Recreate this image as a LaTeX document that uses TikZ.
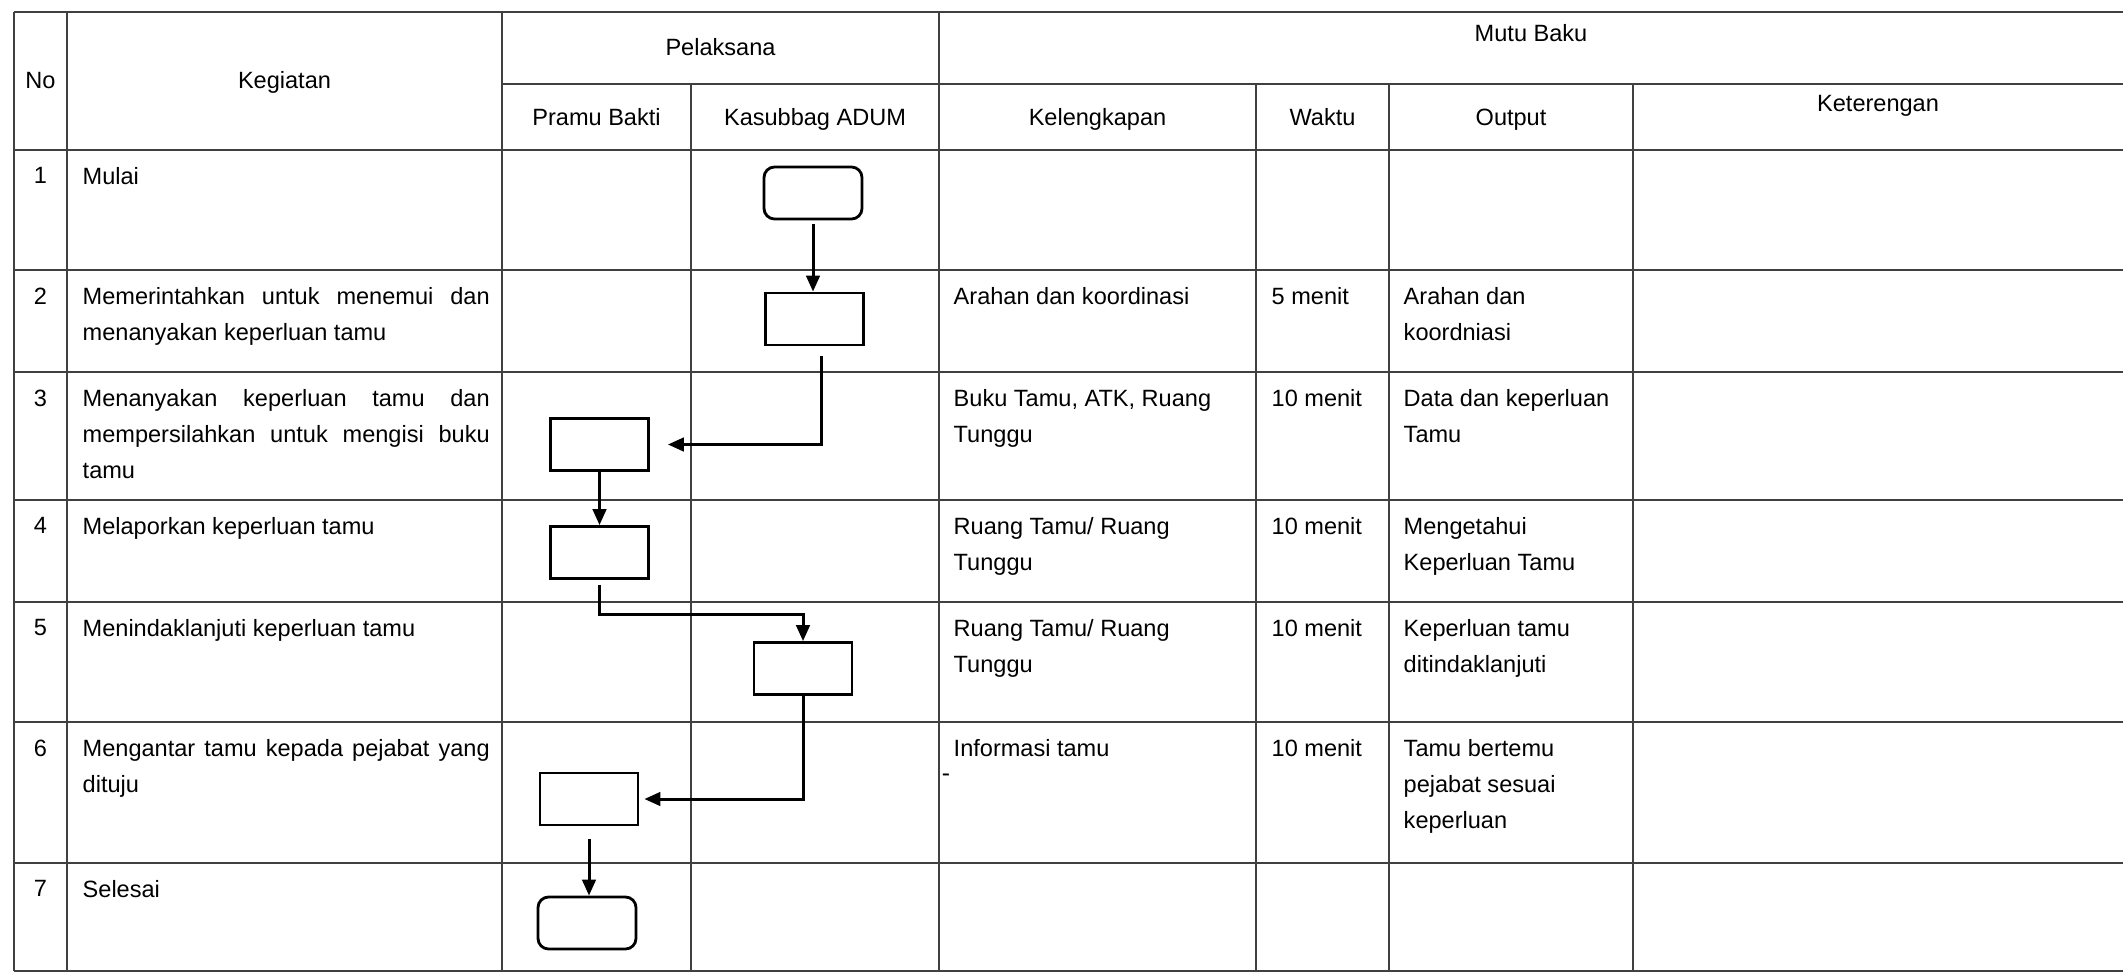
\documentclass[tikz,border=0pt]{standalone}
\usepackage{fontspec}
\setmainfont{Liberation Sans}
\usetikzlibrary{arrows.meta,positioning}
\tolerance=10000
\hyphenpenalty=10000

\begin{document}
\begin{tikzpicture}[
  font=\fontsize{6.7pt}{10.2pt}\selectfont,
  grid/.style={draw=black!75, line width=0.6pt},
  cell/.style={anchor=north west, inner sep=0pt, align=left},
  keg/.style={anchor=north west, inner sep=0pt, text width=4.07cm, align=justify},
  num/.style={anchor=north, inner sep=0pt},
  head/.style={anchor=base, inner sep=0pt},
  act/.style={draw=black, line width=0.8pt, minimum width=0.98cm, minimum height=0.52cm, inner sep=0pt},
  term/.style={act, rounded corners=3pt},
  flow/.style={draw=black, line width=0.85pt, -{Triangle[length=1.6mm,width=1.35mm]}}
]
\useasboundingbox (0,0) rectangle (21.23,-9.73);
\draw[grid] (0.14,-0.12) -- (21.23,-0.12);
\draw[grid] (5.02,-0.84) -- (21.23,-0.84);
\foreach \y in {1.50,2.70,3.72,5.00,6.02,7.22,8.63,9.71}
  \draw[grid] (0.14,-\y) -- (21.23,-\y);
\foreach \x in {0.14,0.67,5.02,9.39}
  \draw[grid] (\x,-0.12) -- (\x,-9.71);
\foreach \x in {6.91,12.56,13.89,16.33}
  \draw[grid] (\x,-0.84) -- (\x,-9.71);

\node[head] (hno) at (0.405,-0.885) {No};
\node[head] (hkeg) at (2.845,-0.885) {Kegiatan};
\node[head] (hpel) at (7.205,-0.555) {Pelaksana};
\node[head] (hpb) at (5.965,-1.255) {Pramu Bakti};
\node[head] (hka) at (8.15,-1.255) {Kasubbag ADUM};
\node[head] (hmb) at (15.31,-0.415) {Mutu Baku};
\node[head] (hkel) at (10.975,-1.255) {Kelengkapan};
\node[head] (hwak) at (13.225,-1.255) {Waktu};
\node[head] (hout) at (15.11,-1.255) {Output};
\node[head] (hket) at (18.78,-1.115) {Keterengan};

\node[num] (n1) at (0.405,-1.67) {1};
\node[keg] (k1) at (0.82,-1.67) {Mulai};
\node[num] (n2) at (0.405,-2.87) {2};
\node[keg] (k2) at (0.82,-2.87) {Memerintahkan untuk menemui dan menanyakan keperluan tamu};
\node[cell] (l2) at (9.53,-2.87) {Arahan dan koordinasi};
\node[cell] (w2) at (12.71,-2.87) {5 menit};
\node[cell] (o2) at (14.03,-2.87) {Arahan dan\\koordniasi};
\node[num] (n3) at (0.405,-3.89) {3};
\node[keg] (k3) at (0.82,-3.89) {Menanyakan keperluan tamu dan mempersilahkan untuk mengisi buku tamu};
\node[cell] (l3) at (9.53,-3.89) {Buku Tamu, ATK, Ruang\\Tunggu};
\node[cell] (w3) at (12.71,-3.89) {10 menit};
\node[cell] (o3) at (14.03,-3.89) {Data dan keperluan\\Tamu};
\node[num] (n4) at (0.405,-5.17) {4};
\node[keg] (k4) at (0.82,-5.17) {Melaporkan keperluan tamu};
\node[cell] (l4) at (9.53,-5.17) {Ruang Tamu/ Ruang\\Tunggu};
\node[cell] (w4) at (12.71,-5.17) {10 menit};
\node[cell] (o4) at (14.03,-5.17) {Mengetahui\\Keperluan Tamu};
\node[num] (n5) at (0.405,-6.19) {5};
\node[keg] (k5) at (0.82,-6.19) {Menindaklanjuti keperluan tamu};
\node[cell] (l5) at (9.53,-6.19) {Ruang Tamu/ Ruang\\Tunggu};
\node[cell] (w5) at (12.71,-6.19) {10 menit};
\node[cell] (o5) at (14.03,-6.19) {Keperluan tamu\\ditindaklanjuti};
\node[num] (n6) at (0.405,-7.39) {6};
\node[keg] (k6) at (0.82,-7.39) {Mengantar tamu kepada pejabat yang dituju};
\node[cell] (l6) at (9.53,-7.39) {Informasi tamu};
\node[inner sep=0pt] (dash) at (9.46,-7.78) {\scriptsize -};
\node[cell] (w6) at (12.71,-7.39) {10 menit};
\node[cell] (o6) at (14.03,-7.39) {Tamu bertemu\\pejabat sesuai\\keperluan};
\node[num] (n7) at (0.405,-8.80) {7};
\node[keg] (k7) at (0.82,-8.80) {Selesai};

\node[term] (t1) at (8.13,-1.93) {};
\node[act] (p2) at (8.145,-3.19) {};
\draw[flow, shorten <=0.4mm] (t1.south) -- (t1.south |- p2.north);
\node[act] (p3) at (5.995,-4.445) {};
\draw[flow, shorten <=1mm, shorten >=1.8mm] ([xshift=0.7mm]p2.south) |- (p3.east);
\node[act] (p4) at (5.995,-5.525) {};
\draw[flow] (p3) -- (p4);
\node[act] (p5) at (8.03,-6.685) {};
\draw[flow, shorten <=0.5mm] (p4.south) -- ++(0,-0.35) -| (p5.north);
\node[act] (p6) at (5.89,-7.99) {};
\draw[flow, shorten >=0.5mm] (p5.south) |- (p6.east);
\node[term] (t7) at (5.87,-9.23) {};
\draw[flow, shorten <=1.3mm] (p6.south) -- (p6.south |- t7.north);
\end{tikzpicture}
\end{document}
